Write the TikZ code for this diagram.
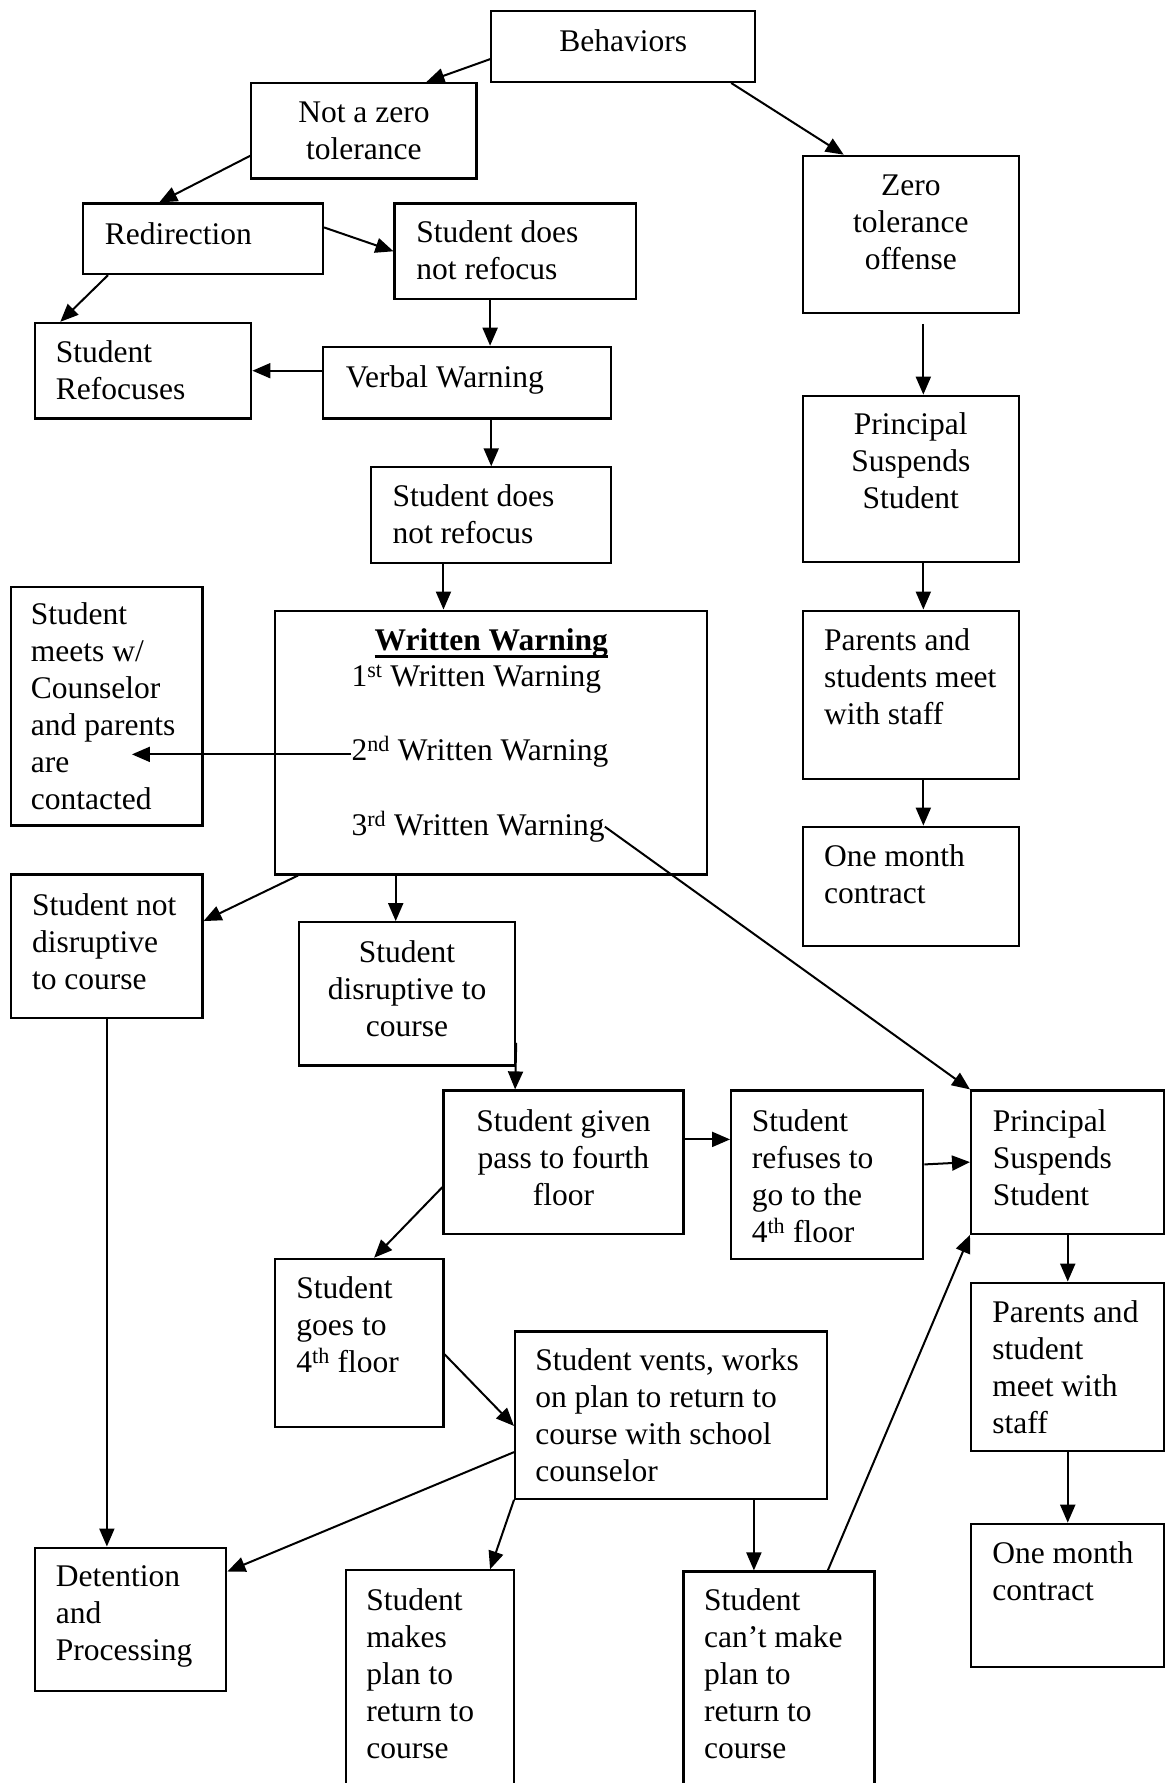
\documentclass[tikz,border=0pt]{standalone}
\usepackage{fontspec}
\setmainfont{Liberation Serif}
\usetikzlibrary{arrows.meta,fit}
\newcommand\tl[1]{\begin{tabular}[t]{@{}l@{}}#1\end{tabular}}
\newcommand\tc[1]{\begin{tabular}[t]{@{}c@{}}#1\end{tabular}}
\newcommand\ulbf[1]{\setbox0=\hbox{\bfseries #1}\rlap{\rule[-8pt]{\wd0}{3.4pt}}\box0}
\newcommand\mybox[5]{\node[box,fit={(#2,#3)(#4,#5)}] (#1) {};}
\begin{document}
\begin{tikzpicture}[x=1.1366pt,y=-1.1366pt,
  box/.style={draw,line width=2.2pt,inner sep=0pt,rectangle},
  lt/.style={inner sep=0pt,anchor=base west,font=\fontsize{31.5}{37}\selectfont},
  ct/.style={inner sep=0pt,anchor=base,font=\fontsize{31.5}{37}\selectfont},
  arr/.style={line width=2pt,-{Triangle[length=18pt,width=15pt]}}]
\useasboundingbox (0,0) rectangle (1025,1568);
\clip (0,0) rectangle (1025,1568);
% boxes
\mybox{beh}{432}{10}{664}{72}
\mybox{nz}{221}{73}{419}{157}
\mybox{redir}{73}{179}{284}{241}
\mybox{sdnr1}{347}{179}{559}{263}
\mybox{refoc}{31}{284}{221}{368}
\mybox{verbal}{284}{305}{537}{368}
\mybox{sdnr2}{326}{411}{537}{495}
\mybox{ww}{242}{537}{622}{769}
\mybox{meets}{10}{516}{178}{726}
\mybox{zto}{706}{137}{896}{275}
\mybox{ps1}{706}{348}{896}{494}
\mybox{pm1}{706}{537}{896}{685}
\mybox{omc1}{706}{727}{896}{832}
\mybox{snd}{10}{769}{178}{895}
\mybox{sd}{263}{811}{453}{937}
\mybox{pass}{390}{959}{601}{1085}
\mybox{refuse}{643}{959}{812}{1107}
\mybox{ps2}{854}{959}{1023.5}{1085}
\mybox{pm2}{854}{1128}{1023.5}{1276}
\mybox{omc2}{854}{1340}{1023.5}{1466}
\mybox{goes}{242}{1107}{390}{1255}
\mybox{vents}{453}{1171}{727}{1318}
\mybox{det}{31}{1361}{199}{1487}
\mybox{makes}{304}{1381}{452}{1620}
\mybox{cant}{601}{1382}{769}{1620}
% texts
\node[ct] (t-beh) at (548,45.5) {\tc{Behaviors}};
\node[ct] (t-nz) at (320,108) {\tc{Not a zero\\tolerance}};
\node[lt] (t-redir) at (92,215) {\tl{Redirection}};
\node[lt] (t-sdnr1) at (366,213.5) {\tl{Student does\\not refocus}};
\node[lt] (t-refoc) at (49,319) {\tl{Student\\Refocuses}};
\node[lt] (t-verbal) at (304,341) {\tl{Verbal Warning}};
\node[lt] (t-sdnr2) at (345,445) {\tl{Student does\\not refocus}};
\node[ct] (t-wwt) at (432,572) {\ulbf{Written Warning}};
\node[lt] (w1) at (309,604) {1\textsuperscript{st} Written Warning};
\node[lt] (w2) at (309,669) {2\textsuperscript{nd} Written Warning};
\node[lt] (w3) at (309,734.5) {3\textsuperscript{rd} Written Warning};
\node[lt] (t-meets) at (27,549) {\tl{Student\\meets w/\\Counselor\\and parents\\are\\contacted}};
\node[ct] (t-zto) at (801,172) {\tc{Zero\\tolerance\\offense}};
\node[ct] (t-ps1) at (801,382.5) {\tc{Principal\\Suspends\\Student}};
\node[lt] (t-pm1) at (724.5,572) {\tl{Parents and\\students meet\\with staff}};
\node[lt] (t-omc1) at (724.5,762) {\tl{One month\\contract}};
\node[lt] (t-snd) at (28,805) {\tl{Student not\\disruptive\\to course}};
\node[ct] (t-sd) at (358,846.7) {\tc{Student\\disruptive to\\course}};
\node[ct] (t-pass) at (495.5,995) {\tc{Student given\\pass to fourth\\floor}};
\node[lt] (t-refuse) at (661,995) {\tl{Student\\refuses to\\go to the\\4\textsuperscript{th} floor}};
\node[lt] (t-ps2) at (873,995) {\tl{Principal\\Suspends\\Student}};
\node[lt] (t-pm2) at (872.5,1163) {\tl{Parents and\\student\\meet with\\staff}};
\node[lt] (t-omc2) at (872.5,1375) {\tl{One month\\contract}};
\node[lt] (t-goes) at (260.5,1142) {\tl{Student\\goes to\\4\textsuperscript{th} floor}};
\node[lt] (t-vents) at (470.6,1205.5) {\tl{Student vents, works\\on plan to return to\\course with school\\counselor}};
\node[lt] (t-det) at (49,1395.5) {\tl{Detention\\and\\Processing}};
\node[lt] (t-makes) at (322,1416) {\tl{Student\\makes\\plan to\\return to\\course}};
\node[lt] (t-cant) at (619,1416) {\tl{Student\\can’t make\\plan to\\return to\\course}};
\coordinate (meetsin) at (116,663.4);
% connectors
\draw[arr] (beh.west |- 0,52) -- (nz.north -| 375,0);
\draw[arr] (beh.south -| 643,0) -- (zto.north -| 742,0);
\draw[arr] (nz.west |- 0,137) -- (redir.north -| 140,0);
\draw[arr] (redir.east |- 0,200) -- (sdnr1.west |- 0,221);
\draw[arr] (redir.south -| 95,0) -- (refoc.north -| 53,0);
\draw[arr] (sdnr1.south -| 431,0) -- (verbal.north -| 431,0);
\draw[arr] (verbal.west |- 0,326) -- (refoc.east |- 0,326);
\draw[arr] (verbal.south -| 432,0) -- (sdnr2.north -| 432,0);
\draw[arr] (sdnr2.south -| 390,0) -- (ww.north -| 390,0);
\draw[arr] (w2.west |- 0,663.4) -- (meetsin);
\draw[arr] (w3.east |- 0,727) -- (ps2.north west);
\draw[arr] (ww.south -| 262,0) -- (snd.east |- 0,810);
\draw[arr] (ww.south -| 348,0) -- (sd.north -| 348,0);
\draw[arr] (sd.east |- 0,917) -- (pass.north -| 453,0);
\draw[arr] (pass.east |- 0,1002) -- (refuse.west |- 0,1002);
\draw[arr] (refuse.east |- 0,1024) -- (ps2.west |- 0,1022);
\draw[arr] (pass.west |- 0,1044) -- (goes.north -| 329,0);
\draw[arr] (goes.east |- 0,1191) -- (vents.west |- 0,1254);
\draw[arr] (vents.west |- 0,1277) -- (det.east |- 0,1382);
\draw[arr] (snd.south -| 94,0) -- (det.north -| 94,0);
\draw[arr] (vents.south west) -- (makes.north -| 431,0);
\draw[arr] (vents.south -| 663,0) -- (cant.north -| 663,0);
\draw[arr] (cant.north -| 728,0) -- (ps2.south west);
\draw[arr] (ps2.south -| 939,0) -- (pm2.north -| 939,0);
\draw[arr] (pm2.south -| 939,0) -- (omc2.north -| 939,0);
\draw[arr] ([yshift=-10pt]zto.south -| 812,0) -- (ps1.north -| 812,0);
\draw[arr] (ps1.south -| 812,0) -- (pm1.north -| 812,0);
\draw[arr] (pm1.south -| 812,0) -- (omc1.north -| 812,0);
\end{tikzpicture}
\end{document}
